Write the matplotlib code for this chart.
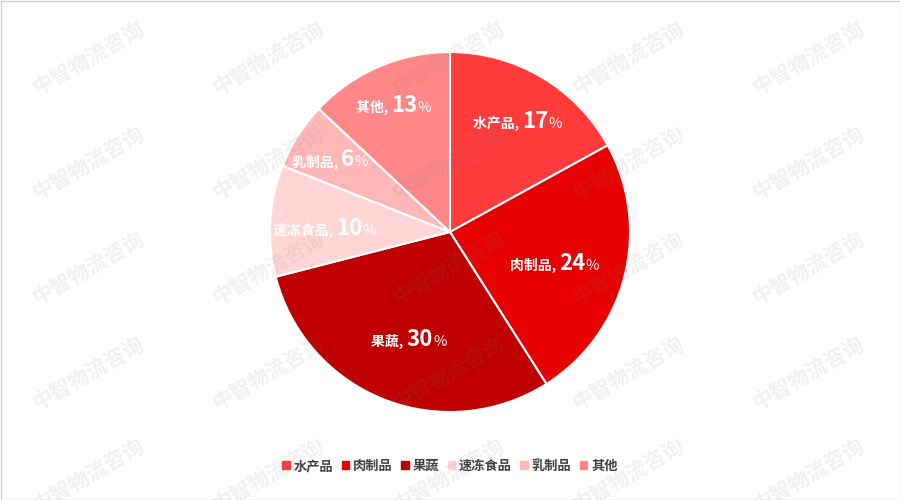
import matplotlib
matplotlib.use("Agg")
import matplotlib.pyplot as plt
import numpy as np
from matplotlib.offsetbox import TextArea, HPacker, AnnotationBbox
from matplotlib.patches import Rectangle

plt.rcParams['font.family'] = ['Noto Sans CJK SC', 'DejaVu Sans']

categories = ['水产品', '肉制品', '果蔬', '速冻食品', '乳制品', '其他']
values = [17, 24, 30, 10, 6, 13]
colors = ['#FF3B3B', '#E60000', '#C00000', '#FFD5D5', '#FFB7B7', '#FF8787']
watermark = '中智物流咨询'

fig = plt.figure(figsize=(9, 5), dpi=100)
fig.patch.set_facecolor('white')

# pie axes: center (450,232), radius 180 px
cx, cy, r = 450, 232, 180
ax = fig.add_axes([(cx - r) / 900, 1 - (cy + r) / 500, 2 * r / 900, 2 * r / 500])
wedges, _ = ax.pie(values, colors=colors, startangle=90, counterclock=False,
                   wedgeprops=dict(edgecolor='white', linewidth=1.5))
ax.set_xlim(-1, 1)
ax.set_ylim(-1, 1)
ax.set_aspect('auto')
ax.axis('off')

label_r = [0.74, 0.6, 0.62, 0.7, 0.79, 0.79]
for w, cat, v, lr in zip(wedges, categories, values, label_r):
    ang = np.deg2rad((w.theta1 + w.theta2) / 2)
    x, y = lr * np.cos(ang), lr * np.sin(ang)
    t1 = TextArea(cat + ', ', textprops=dict(color='white', fontsize=10, fontweight='bold'))
    t2 = TextArea(str(v), textprops=dict(color='white', fontsize=16, fontweight='bold'))
    t3 = TextArea('%', textprops=dict(color='white', fontsize=10.5))
    box = HPacker(children=[t1, t2, t3], align='baseline', pad=0, sep=0)
    ab = AnnotationBbox(box, (x, y), xybox=(0, -3), boxcoords='offset points',
                        frameon=False, box_alignment=(0.5, 0.5))
    ax.add_artist(ab)

# legend
handles = [Rectangle((0, 0), 1, 1, color=c) for c in colors]
fig.legend(handles, categories, loc='center', bbox_to_anchor=(0.5, 1 - 466 / 500),
           ncol=6, frameon=False, fontsize=9.5, handlelength=0.55, handleheight=0.55,
           handletextpad=0.3, columnspacing=0.65, labelcolor='#404040',
           prop=dict(weight='bold', size=9.5))

# watermark grid
for yy in [58, 163, 268, 373, 475]:
    for xx in [88, 268, 448, 628, 808]:
        fig.text(xx / 900, 1 - yy / 500, watermark, rotation=30, fontsize=15,
                 fontweight='bold', color='#808080', alpha=0.11,
                 ha='center', va='center', zorder=10)

# border
fig.add_artist(Rectangle((0.5 / 900, 0.5 / 500), 1 - 1 / 900, 1 - 1 / 500,
                         transform=fig.transFigure, fill=False,
                         edgecolor='#D0D0D0', linewidth=1))

fig.savefig('out.png', dpi=100)
